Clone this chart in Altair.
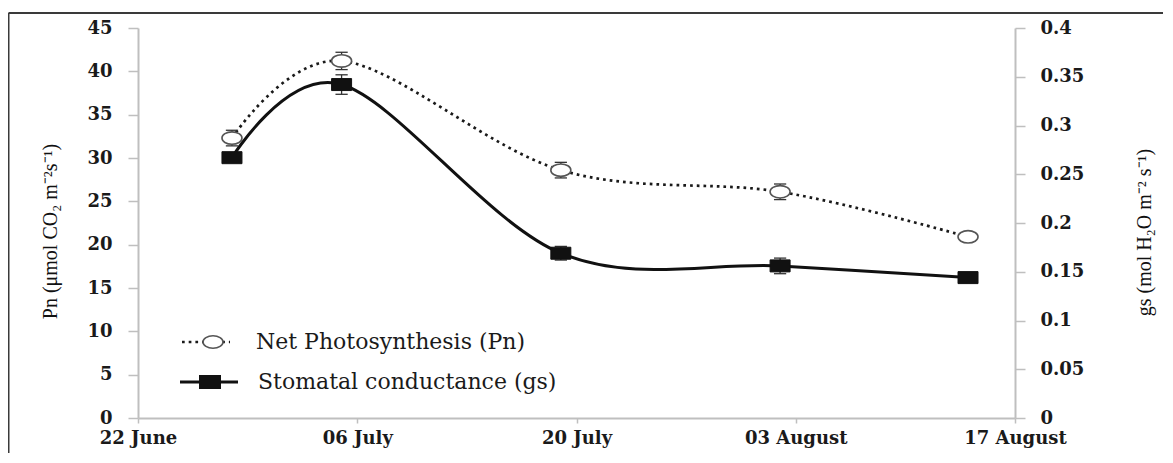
import altair as alt
import pandas as pd

# ---- data ----
dates = ["2014-06-28", "2014-07-05", "2014-07-19", "2014-08-02", "2014-08-14"]
pn = [32.3, 41.2, 28.6, 26.1, 20.9]
pn_err = [0.9, 1.0, 0.9, 0.9, 0.4]
gs = [0.267, 0.342, 0.169, 0.156, 0.144]
gs_err = [0.004, 0.010, 0.007, 0.008, 0.003]
series = ["Net Photosynthesis (Pn)", "Stomatal conductance (gs)"]
x_tick_dates = [(6, 22), (7, 6), (7, 20), (8, 3), (8, 17)]
pn_ticks = [0, 5, 10, 15, 20, 25, 30, 35, 40, 45]
gs_ticks = [0, 0.05, 0.1, 0.15, 0.2, 0.25, 0.3, 0.35, 0.4]
pn_title = "Pn (μmol CO₂ m⁻²s⁻¹)"
gs_title = "gs (mol H₂O m⁻² s⁻¹)"

df = pd.DataFrame({
    "date": dates,
    "pn": pn,
    "pn_lo": [v - e for v, e in zip(pn, pn_err)],
    "pn_hi": [v + e for v, e in zip(pn, pn_err)],
    "gs": gs,
    "gs_lo": [v - e for v, e in zip(gs, gs_err)],
    "gs_hi": [v + e for v, e in zip(gs, gs_err)],
})

W, H = 877, 390
AX = "#bfbfbf"
TXT = "#1a1a1a"
LBL_FONT = "DejaVu Serif"
TTL_FONT = "Liberation Serif"
ELLIPSE = "M-1,0A1,0.62,0,1,0,1,0A1,0.62,0,1,0,-1,0Z"
RECT = "M-1,-0.6H1V0.6H-1Z"
CAP = "M-1,0H1"


def dt(m, d):
    return alt.DateTime(year=2014, month=m, date=d, utc=True)


x_enc = alt.X(
    "date:T",
    scale=alt.Scale(type="utc", domain=[dt(*x_tick_dates[0]), dt(*x_tick_dates[-1])]),
    axis=alt.Axis(
        values=[dt(m, d) for m, d in x_tick_dates],
        labelExpr="utcFormat(datum.value, '%d %B')",
        title=None, grid=False, domainColor=AX, domainWidth=2, tickColor=AX,
        tickSize=5, tickWidth=1.5, labelPadding=6, labelFont=LBL_FONT,
        labelFontSize=18, labelFontWeight="bold", labelColor=TXT,
        labelFlush=False, labelOverlap=False,
    ),
)

pn_scale = alt.Scale(domain=[0, 45], nice=False)
gs_scale = alt.Scale(domain=[0, 0.4], nice=False)

pn_axis = alt.Axis(
    values=pn_ticks, format="d", title=pn_title, orient="left", grid=False,
    domainColor=AX, domainWidth=2, tickColor=AX, tickSize=10, tickWidth=1.5,
    labelPadding=16, labelFont=LBL_FONT, labelFontSize=18, labelFontWeight="bold",
    labelColor=TXT, titleFont=TTL_FONT, titleFontSize=20, titleFontWeight="normal",
    titleColor="#111111", titlePadding=26, titleY=203,
)
gs_axis = alt.Axis(
    values=gs_ticks, format="~g", title=gs_title, orient="right", grid=False,
    domainColor=AX, domainWidth=2, tickColor=AX, tickSize=10, tickWidth=1.5,
    labelPadding=15, labelFont=LBL_FONT, labelFontSize=18, labelFontWeight="bold",
    labelColor=TXT, titleFont=TTL_FONT, titleFontSize=20, titleFontWeight="normal",
    titleColor="#111111", titlePadding=51, titleAngle=270, titleBaseline="top",
    titleY=204,
)

base = alt.Chart(df)

# Net photosynthesis (left axis)
pn_line = base.mark_line(interpolate="cardinal", color=TXT, strokeWidth=2.7,
                         strokeDash=[2.7, 4]).encode(
    x=x_enc, y=alt.Y("pn:Q", scale=pn_scale, axis=pn_axis))
pn_bar = base.mark_rule(color="#333333", strokeWidth=1.3).encode(
    x=x_enc, y=alt.Y("pn_lo:Q", scale=pn_scale, axis=pn_axis), y2="pn_hi:Q")
pn_cap_lo = base.mark_point(shape=CAP, size=150, filled=False, color="#333333",
                            strokeWidth=1.3, opacity=1).encode(
    x=x_enc, y=alt.Y("pn_lo:Q", scale=pn_scale, axis=pn_axis))
pn_cap_hi = base.mark_point(shape=CAP, size=150, filled=False, color="#333333",
                            strokeWidth=1.3, opacity=1).encode(
    x=x_enc, y=alt.Y("pn_hi:Q", scale=pn_scale, axis=pn_axis))
pn_pts = base.mark_point(shape=ELLIPSE, size=400, filled=True, fill="white",
                         stroke="#555555", strokeWidth=1.6, opacity=1).encode(
    x=x_enc, y=alt.Y("pn:Q", scale=pn_scale, axis=pn_axis))
pn_layer = alt.layer(pn_line, pn_bar, pn_cap_lo, pn_cap_hi, pn_pts)

# Stomatal conductance (right axis)
gs_line = base.mark_line(interpolate="cardinal", color="#111111", strokeWidth=3).encode(
    x=x_enc, y=alt.Y("gs:Q", scale=gs_scale, axis=gs_axis))
gs_bar = base.mark_rule(color="#333333", strokeWidth=1.3).encode(
    x=x_enc, y=alt.Y("gs_lo:Q", scale=gs_scale, axis=gs_axis), y2="gs_hi:Q")
gs_cap_lo = base.mark_point(shape=CAP, size=150, filled=False, color="#333333",
                            strokeWidth=1.3, opacity=1).encode(
    x=x_enc, y=alt.Y("gs_lo:Q", scale=gs_scale, axis=gs_axis))
gs_cap_hi = base.mark_point(shape=CAP, size=150, filled=False, color="#333333",
                            strokeWidth=1.3, opacity=1).encode(
    x=x_enc, y=alt.Y("gs_hi:Q", scale=gs_scale, axis=gs_axis))
gs_pts = base.mark_point(shape=RECT, size=400, filled=True, fill="#111111",
                         stroke="#111111", strokeWidth=1, opacity=1).encode(
    x=x_enc, y=alt.Y("gs:Q", scale=gs_scale, axis=gs_axis))
gs_layer = alt.layer(gs_line, gs_bar, gs_cap_lo, gs_cap_hi, gs_pts)

# Legend (inside plot, lower left)
one = alt.Data(values=[{"k": 1}])
leg = [
    alt.Chart(one).mark_rule(strokeDash=[2.7, 4], strokeWidth=2.7, color=TXT).encode(
        x=alt.value(44), x2=alt.value(92), y=alt.value(314)),
    alt.Chart(one).mark_point(shape=ELLIPSE, size=400, filled=True, fill="white",
                              stroke="#555555", strokeWidth=1.6, opacity=1).encode(
        x=alt.value(75), y=alt.value(314)),
    alt.Chart(one).mark_text(align="left", baseline="middle", font=LBL_FONT, fontSize=22,
                             color=TXT).encode(
        x=alt.value(118), y=alt.value(314), text=alt.value(series[0])),
    alt.Chart(one).mark_rule(strokeWidth=3, color="#111111").encode(
        x=alt.value(42), x2=alt.value(100), y=alt.value(354)),
    alt.Chart(one).mark_point(shape=RECT, size=400, filled=True, fill="#111111",
                              stroke="#111111", opacity=1).encode(
        x=alt.value(72), y=alt.value(354)),
    alt.Chart(one).mark_text(align="left", baseline="middle", font=LBL_FONT, fontSize=22,
                             color=TXT).encode(
        x=alt.value(120), y=alt.value(354), text=alt.value(series[1])),
    # outer figure frame
    alt.Chart(one).mark_rule(strokeWidth=2, color="#3a3a3a").encode(
        x=alt.value(-129.5), y=alt.value(-15), y2=alt.value(440)),
    alt.Chart(one).mark_rule(strokeWidth=2, color="#3a3a3a").encode(
        x=alt.value(-129.5), x2=alt.value(1030), y=alt.value(-15)),
]

chart = alt.layer(pn_layer, gs_layer, *leg).resolve_scale(y="independent").properties(
    width=W, height=H,
    padding={"left": 130, "top": 20, "right": 148, "bottom": 35},
    autosize=alt.AutoSizeParams(type="none"),
    background="white",
).configure_view(stroke=None)

chart.save("out.html", embed_options={"renderer": "svg", "actions": False})
